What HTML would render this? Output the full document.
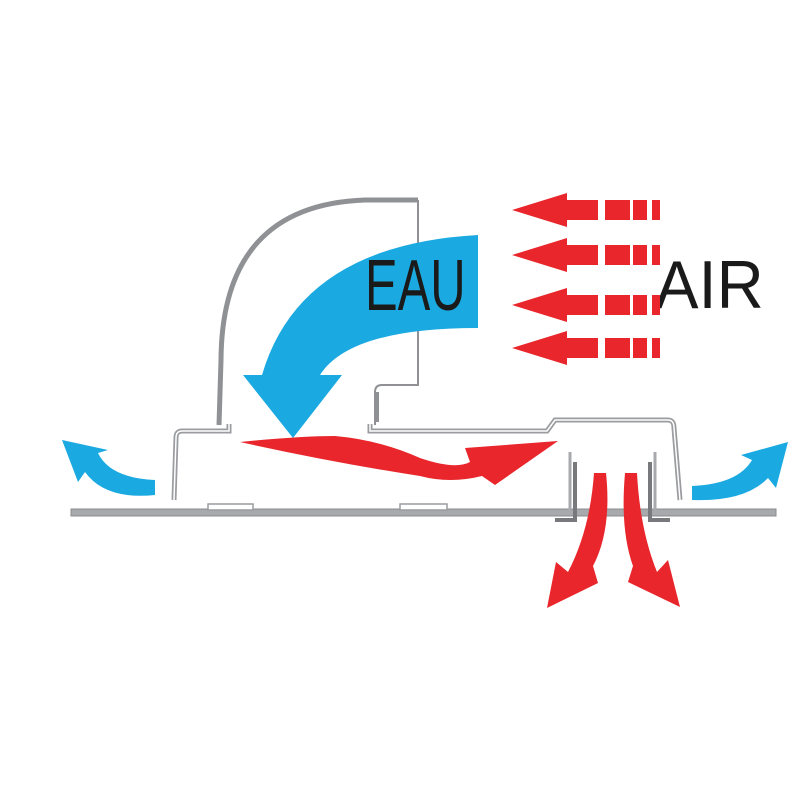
<!DOCTYPE html>
<html><head><style>html,body{margin:0;padding:0;background:#fff}svg{display:block}</style></head>
<body>
<svg width="800" height="800" viewBox="0 0 800 800" xmlns="http://www.w3.org/2000/svg">
<rect width="800" height="800" fill="#fff"/>
<!-- floor -->
<rect x="71" y="509" width="705" height="7" fill="#a7a9ac" stroke="#8a8c8f" stroke-width="1"/>
<rect x="208" y="504" width="45" height="6" fill="#fff" stroke="#9a9c9f" stroke-width="1.5"/>
<rect x="400" y="504" width="47" height="6" fill="#fff" stroke="#9a9c9f" stroke-width="1.5"/>
<!-- duct -->
<path d="M418 200 L365 200 Q222 205 221 360 L219 425" fill="none" stroke="#8f9194" stroke-width="5"/>
<path d="M418 200 L418 385 L382 385 Q375 385 375 392 L375 425" fill="none" stroke="#8f9194" stroke-width="2"/>
<path d="M377 392 L377 422" stroke="#8f9194" stroke-width="4"/>
<!-- left box -->
<path d="M229 424 L229 431 L182 431 Q176 431 176 438 L174 500" fill="none" stroke="#9a9c9f" stroke-width="5"/>
<path d="M229 424 L229 431 L182 431 Q176 431 176 438 L174 500" fill="none" stroke="#fff" stroke-width="1.5"/>
<!-- housing top -->
<path d="M370 424 L370 431 L547 431 L555 420 L668 420 Q674 420 674 428 L680 500" fill="none" stroke="#9a9c9f" stroke-width="5"/>
<path d="M370 424 L370 431 L547 431 L555 420 L668 420 Q674 420 674 428 L680 500" fill="none" stroke="#fff" stroke-width="1.5"/>
<!-- inner walls -->
<path d="M570 452 L570 512" stroke="#a7a9ac" stroke-width="3"/>
<path d="M575 462 L575 520 L555 520" fill="none" stroke="#77797c" stroke-width="4"/>
<path d="M655 452 L655 512" stroke="#a7a9ac" stroke-width="3"/>
<path d="M650 462 L650 520 L670 520" fill="none" stroke="#77797c" stroke-width="4"/>
<!-- blue down arrow -->
<path d="M478 235 Q300 245 262 375 L243 375 L293 438 L342 375 L320 375 Q350 328 478 328 Z" fill="#1ba9e1"/>
<text x="365" y="310" font-family="Liberation Sans, sans-serif" font-size="72" fill="#1a1a1a" transform="translate(365 0) scale(0.68 1) translate(-365 0)">EAU</text>
<text x="655" y="308" font-family="Liberation Sans, sans-serif" font-size="68" fill="#1a1a1a" transform="translate(655 0) scale(0.96 1) translate(-655 0)">AIR</text>
<!-- red left arrows -->
<g fill="#e8262b">
<g id="ra">
<path d="M512 210 L567 193 L567 200 L598 200 L598 220 L567 220 L567 227 Z"/>
<rect x="605" y="200" width="25" height="20"/>
<rect x="633" y="200" width="14" height="20"/>
<rect x="652" y="200" width="8" height="20"/>
</g>
<use href="#ra" y="45"/>
<use href="#ra" y="95"/>
<use href="#ra" y="138"/>
<!-- horizontal red -->
<path d="M240 442 Q300 436 335 436 Q380 440 420 458 Q455 470 470 462 L465 448 L558 441 L495 485 L482 476 Q450 484 420 476 Q330 462 240 442 Z"/>
<!-- down red arrows -->
<path d="M594 473 L606 473 Q612 530 593 566 L598 583 L547 608 L556 562 L568 572 Q590 530 594 473 Z"/>
<path d="M637 473 L625 473 Q620 530 633 566 L628 582 L680 607 L668 560 L657 572 Q640 530 637 473 Z"/>
</g>
<!-- blue side arrows -->
<path d="M155 495 L155 480 Q110 478 98 453 L108 450 L62 440 L78 482 L85 472 Q105 500 155 495 Z" fill="#1ba9e1"/>
<path d="M692 500 L692 486 Q738 484 752 460 L741 455 L788 442 L776 488 L768 478 Q745 502 692 500 Z" fill="#1ba9e1"/>
</svg>
</body></html>
